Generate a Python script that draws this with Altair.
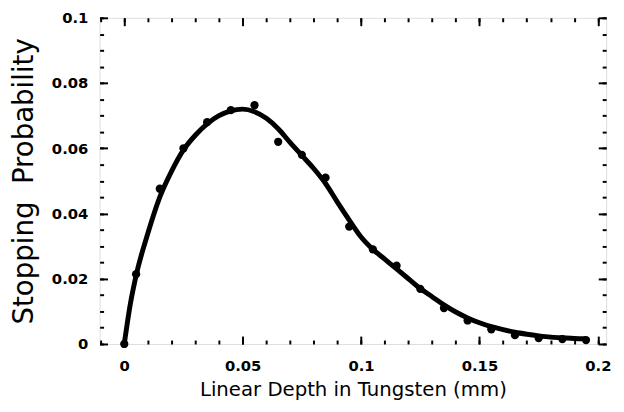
import altair as alt
import pandas as pd

# measured points (depth in mm, stopping probability)
pt_x = [0.0, 0.005, 0.015, 0.025, 0.035, 0.045, 0.055, 0.065, 0.075, 0.085, 0.095,
        0.105, 0.115, 0.125, 0.135, 0.145, 0.155, 0.165, 0.175, 0.185, 0.195]
pt_y = [0.0, 0.0214, 0.0476, 0.060, 0.068, 0.0717, 0.0732, 0.062, 0.058, 0.051, 0.036,
        0.029, 0.024, 0.0169, 0.011, 0.0072, 0.0045, 0.0027, 0.0018, 0.0015, 0.0012]

# fitted curve
cv_x = [0.0, 0.0025, 0.005, 0.01, 0.015, 0.02, 0.025, 0.03, 0.035, 0.04, 0.045, 0.05,
        0.055, 0.06, 0.065, 0.07, 0.075, 0.08, 0.085, 0.09, 0.095, 0.1, 0.105, 0.11,
        0.115, 0.12, 0.125, 0.13, 0.135, 0.14, 0.145, 0.15, 0.155, 0.16, 0.165, 0.17,
        0.175, 0.18, 0.185, 0.19, 0.195]
cv_y = [0.0, 0.012, 0.021, 0.034, 0.045, 0.053, 0.0595, 0.064, 0.0675, 0.0700, 0.0715,
        0.0720, 0.0712, 0.0692, 0.0660, 0.0618, 0.0578, 0.0538, 0.0492, 0.0435, 0.0380,
        0.0328, 0.0290, 0.0260, 0.0230, 0.0200, 0.0170, 0.0145, 0.0120, 0.0098, 0.0080,
        0.0065, 0.0053, 0.0044, 0.0036, 0.0030, 0.0025, 0.0021, 0.0019, 0.0017, 0.0016]

x_major = [0.0, 0.05, 0.1, 0.15, 0.2]
x_minor = [round(0.01 * i, 2) for i in range(-1, 21)]
y_major = [0.0, 0.02, 0.04, 0.06, 0.08, 0.1]
y_minor = [round(0.005 * i, 3) for i in range(0, 21)]

pts = pd.DataFrame({"x": pt_x, "y": pt_y})
cv = pd.DataFrame({"x": cv_x, "y": cv_y})

FONT = "DejaVu Sans"
xs = alt.Scale(domain=[-0.0104, 0.2035], nice=False, zero=False)
ys = alt.Scale(domain=[0, 0.1], nice=False)

x_lab = alt.Axis(values=x_major, labelExpr="datum.value == 0 ? '0' : format(datum.value, '.2~f')",
                 ticks=False, domain=False, grid=False, labelFontSize=15, labelFont=FONT,
                 labelFontWeight="bold", labelColor="black", labelPadding=15,
                 title="Linear Depth in Tungsten (mm)", titleFont=FONT, titleFontSize=20,
                 titleFontWeight="normal", titleColor="black", titlePadding=6, orient="bottom")
y_lab = alt.Axis(values=y_major, labelExpr="datum.value == 0 ? '0' : format(datum.value, '.2~f')",
                 ticks=False, domain=False, grid=False, labelFontSize=15, labelFont=FONT,
                 labelFontWeight="bold", labelColor="black", labelPadding=12,
                 title="Stopping\u00a0\u00a0Probability", titleFont=FONT,
                 titleFontSize=28, titleFontWeight="normal", titleColor="black",
                 titlePadding=13, orient="left")


def tick_axis(values, orient, size):
    return alt.Axis(values=values, orient=orient, offset=-size, tickSize=size, tickWidth=2,
                    tickColor="black", labels=False, domain=False, grid=False, title=None)


line = alt.Chart(cv).mark_line(color="black", strokeWidth=5, interpolate="monotone").encode(
    x=alt.X("x:Q", scale=xs, axis=x_lab),
    y=alt.Y("y:Q", scale=ys, axis=y_lab),
)
dots = alt.Chart(pts).mark_circle(color="black", size=70, opacity=1).encode(
    x=alt.X("x:Q", scale=xs, axis=None),
    y=alt.Y("y:Q", scale=ys, axis=None),
)

tick_layers = []
for orient_x, orient_y in [("bottom", "left"), ("top", "right")]:
    tick_layers.append(alt.Chart(pts).mark_point(opacity=0).encode(
        x=alt.X("x:Q", scale=xs, axis=tick_axis(x_minor, orient_x, 4)),
        y=alt.Y("y:Q", scale=ys, axis=tick_axis(y_minor, orient_y, 4)),
    ))
    tick_layers.append(alt.Chart(pts).mark_point(opacity=0).encode(
        x=alt.X("x:Q", scale=xs, axis=tick_axis(x_major, orient_x, 8)),
        y=alt.Y("y:Q", scale=ys, axis=tick_axis(y_major, orient_y, 8)),
    ))

chart = alt.layer(line, dots, *tick_layers).resolve_axis(x="independent", y="independent").properties(
    width=514, height=331, padding={"left": 2, "top": 0, "right": 5, "bottom": 5}
).configure_view(stroke="black", strokeWidth=2.5).configure(background="white")

chart.save("out.html", embed_options={"renderer": "svg", "actions": False})
